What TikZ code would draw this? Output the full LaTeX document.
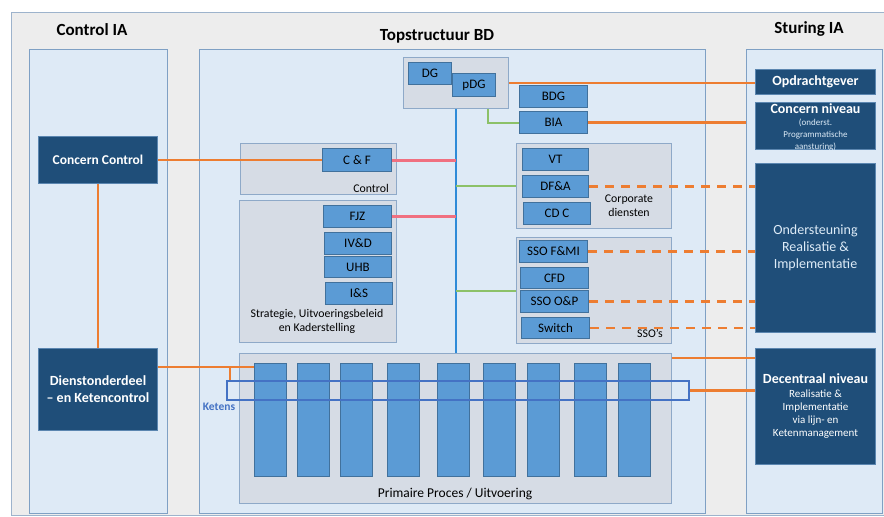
\documentclass[tikz,border=0pt]{standalone}
\usepackage{fontspec}
\setmainfont{Carlito}
\definecolor{bggrey}{HTML}{EDEDED}
\definecolor{outline}{HTML}{9DB3CC}
\definecolor{colfill}{HTML}{DEEAF6}
\definecolor{colline}{HTML}{7FA0C4}
\definecolor{grpfill}{HTML}{D6DCE5}
\definecolor{grpline}{HTML}{8EA9C8}
\definecolor{blkfill}{HTML}{5B9BD5}
\definecolor{blkline}{HTML}{41719C}
\definecolor{dkfill}{HTML}{1F4E79}
\definecolor{dkline}{HTML}{5B86B0}
\definecolor{orng}{HTML}{ED7D31}
\definecolor{pinkred}{HTML}{F07080}
\definecolor{grn}{HTML}{8CC168}
\definecolor{vblue}{HTML}{2E8BD8}
\definecolor{ketblue}{HTML}{4472C4}
\definecolor{lighttxt}{HTML}{DDEBF7}

\tikzset{
  colbox/.style={draw=colline, fill=colfill, line width=1pt, anchor=north west, inner sep=0},
  grpbox/.style={draw=grpline, fill=grpfill, line width=1pt, anchor=north west, inner sep=0},
  blk/.style={draw=blkline, fill=blkfill, line width=1pt, anchor=north west, inner sep=0,
    minimum height=22, font=\fontsize{13}{15}\selectfont},
  dkblk/.style={draw=dkline, fill=dkfill, line width=1pt, anchor=north west, inner sep=0,
    text=white, align=center, font=\bfseries\fontsize{14}{17}\selectfont},
  bar/.style={draw=blkline, fill=blkfill, line width=.8pt, anchor=north west, inner sep=0,
    minimum width=32, minimum height=113},
  lbl/.style={inner sep=0, align=center, font=\fontsize{11.8}{14}\selectfont},
  title/.style={inner sep=0, font=\bfseries\fontsize{17}{20}\selectfont},
  oline/.style={draw=orng, line width=2.5pt},
  odash/.style={oline, dash pattern=on 9pt off 7pt},
  rline/.style={draw=pinkred, line width=3pt},
  gline/.style={draw=grn, line width=2pt},
  vline/.style={draw=vblue, line width=1.5pt}
}

\begin{document}
\begin{tikzpicture}[x=1pt, y=-1pt]

\useasboundingbox (0,0) rectangle (884,517);
\fill[white] (0,0) rectangle (884,517);
\draw[fill=bggrey, draw=outline] (11,12) rectangle (886,515);

% kolommen
\node[colbox, minimum width=138, minimum height=464] (ctrlia) at (29,49) {};
\node[colbox, minimum width=506, minimum height=464] (topbd) at (199,49) {};
\node[colbox, minimum width=136, minimum height=464] (sturia) at (746,49) {};

\node[title] (tctrl) at (92,30) {Control IA};
\node[title] (ttop) at (437,36) {Topstructuur BD};
\node[title] (tstur) at (809,29) {Sturing IA};

% groepen
\node[grpbox, minimum width=105, minimum height=51] (top) at (403,57) {};
\node[grpbox, minimum width=156, minimum height=51] (ctl) at (240,143) {};
\node[grpbox, minimum width=157, minimum height=142] (str) at (239,200) {};
\node[grpbox, minimum width=155, minimum height=85] (corp) at (516,143) {};
\node[grpbox, minimum width=155, minimum height=106] (sso) at (516,237) {};
\node[grpbox, minimum width=432, minimum height=150] (pp) at (239,353) {};

\node[lbl, anchor=south east] (ctltxt) at ([xshift=-8pt,yshift=2pt]ctl.south east) {Control};
\node[lbl] (strtxt) at (317,321) {Strategie, Uitvoeringsbeleid\\en Kaderstelling};
\node[lbl] (corptxt) at (629,206) {Corporate\\diensten};
\node[lbl] (ssotxt) at (650,333) {SSO's};
\node[lbl, font=\fontsize{13.5}{15}\selectfont] (pptxt) at (455,494) {Primaire Proces / Uitvoering};

% blokken
\node[blk, minimum width=43] (dg) at (408,62) {DG};
\node[blk, minimum width=43, minimum height=23] (pdg) at (452,73) {pDG};
\node[blk, minimum width=68] (bdg) at (519,85) {BDG};
\node[blk, minimum width=68] (bia) at (519,111) {BIA};
\node[blk, minimum width=69, minimum height=23] (cf) at (322,148) {C \& F};
\node[blk, minimum width=68] (fjz) at (323,205) {FJZ};
\node[blk, minimum width=67] (ivd) at (324,232) {IV\&D};
\node[blk, minimum width=67, minimum height=21] (uhb) at (324,256) {UHB};
\node[blk, minimum width=67] (is) at (325,282) {I\&S};
\node[blk, minimum width=66] (vt) at (522,148) {VT};
\node[blk, minimum width=66] (dfa) at (522,175) {DF\&A};
\node[blk, minimum width=67] (cdc) at (523,202) {CD C};
\node[blk, minimum width=68] (ssofmi) at (519,240) {SSO F\&MI};
\node[blk, minimum width=68, minimum height=21] (cfd) at (520,267) {CFD};
\node[blk, minimum width=68] (ssoop) at (520,290) {SSO O\&P};
\node[blk, minimum width=68, minimum height=21] (sw) at (521,317) {Switch};

\foreach \x [count=\i] in {254,297,340,387,437,483,527,574,618} {
  \node[bar] (c\i) at (\x,363) {};
};

% control en sturing
\node[dkblk, minimum width=119, minimum height=47, font=\bfseries\fontsize{13.5}{16}\selectfont] (cc) at (38,136) {Concern Control};
\node[dkblk, minimum width=119, minimum height=82] (dk) at (38,348) {Dienstonderdeel\\-- en Ketencontrol};
\node[dkblk, minimum width=120, minimum height=25] (opd) at (755,69) {Opdrachtgever};
\node[dkblk, minimum width=120, minimum height=47] (cn) at (755,102) {};
\node[inner sep=0, align=center, anchor=north, text=lighttxt, font=\fontsize{9}{12}\selectfont] (cntxt) at ([yshift=-1pt]cn.north)
  {{\color{white}\bfseries\fontsize{14}{14}\selectfont Concern niveau}\\(onderst.\\Programmatische\\aansturing)};
\node[dkblk, minimum width=120, minimum height=169, text=lighttxt, font=\fontsize{14}{17}\selectfont] (ond) at (755,163) {Ondersteuning\\Realisatie \&\\Implementatie};
\node[dkblk, minimum width=120, minimum height=116, font=\fontsize{11}{13}\selectfont] (dc) at (755,348)
  {{\bfseries\fontsize{14}{16}\selectfont Decentraal niveau}\\[1pt] Realisatie \&\\Implementatie\\via lijn- en\\Ketenmanagement};

% lijnen
\draw[vline] (top.south) -- (top.south |- pp.north);
\draw[rline] (cf.east) -- (cf.east -| top.south);
\draw[rline] (fjz.east) -- (fjz.east -| top.south);
\draw[gline] (corp.west -| top.south) -- (corp.west);
\draw[gline] (sso.west -| top.south) -- (sso.west);
\draw[gline] (bia.west) -| ([xshift=32pt]top.south);

\draw[oline] (cc.east) -- (cf.west);
\draw[oline] (cc.south) -- (dk.north);
\draw[oline] (top.east) -- (top.east -| opd.west);
\draw[oline] (bia.east) -- (bia.east -| sturia.west);
\draw[odash] (dfa.east) -- (dfa.east -| ond.west);
\draw[odash] (ssofmi.east) -- (ssofmi.east -| ond.west);
\draw[odash] (ssoop.east) -- (ssoop.east -| ond.west);
\draw[odash] (sw.east) -- (sw.east -| ond.west);

\coordinate (kj) at (230,367);
\draw[oline] (dk.east |- kj) -- (kj -| c1.west);
\draw[oline] (kj) -- (kj |- 0,380);
\draw[oline] ([yshift=-5pt]pp.north east) -- ([yshift=-5pt]pp.north east -| dc.west);

\node[draw=ketblue, line width=2pt, anchor=north west, inner sep=0, minimum width=462, minimum height=19] (ket) at (226,380) {};
\draw[oline] (ket.east) -- (ket.east -| dc.west);
\node[inner sep=0, text=ketblue, font=\bfseries\fontsize{11.5}{13}\selectfont] (kettxt) at (219,407) {Ketens};

\end{tikzpicture}
\end{document}
